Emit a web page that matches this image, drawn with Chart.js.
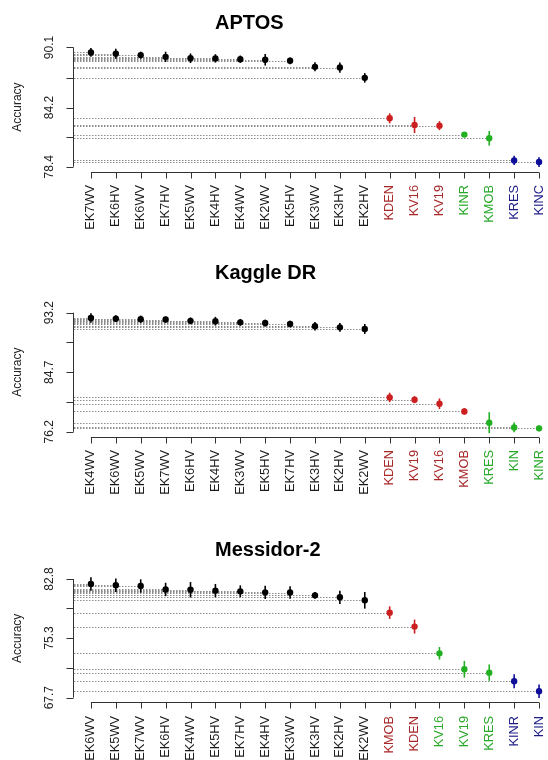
<!DOCTYPE html>
<html>
<head>
<meta charset="utf-8">
<script src="https://cdn.jsdelivr.net/npm/chart.js@4.4.1/dist/chart.umd.min.js"></script>
<style>
  body { margin: 0; background: #fff; }
  #wrap { position: relative; width: 548px; height: 760px; overflow: hidden; }
  .panel { position: absolute; left: 0; width: 548px; }
</style>
</head>
<body>
<div id="wrap">
  <div class="panel" style="top:0;height:250px"><canvas id="aptos" width="548" height="250"></canvas></div>
  <div class="panel" style="top:250px;height:260px"><canvas id="kaggle" width="548" height="260"></canvas></div>
  <div class="panel" style="top:510px;height:250px"><canvas id="messidor" width="548" height="250"></canvas></div>
</div>
<script>
// APTOS
const aptosModels = ['EK7WV','EK6HV','EK6WV','EK7HV','EK5WV','EK4HV','EK4WV','EK2WV','EK5HV','EK3WV','EK3HV','EK2HV',
                     'KDEN','KV16','KV19','KINR','KMOB','KRES','KINC'];
const aptosGroups = ['k','k','k','k','k','k','k','k','k','k','k','k','r','r','r','g','g','b','b'];
const aptosAcc = [89.61, 89.48, 89.35, 89.18, 89.04, 89.03, 88.95, 88.89, 88.79, 88.20, 88.13, 87.12,
                  83.15, 82.50, 82.43, 81.55, 81.19, 79.02, 78.86];
const aptosErr = [0.43, 0.49, 0.34, 0.50, 0.47, 0.41, 0.36, 0.56, 0.33, 0.44, 0.50, 0.47,
                  0.49, 0.79, 0.44, 0.22, 0.72, 0.46, 0.48];
const aptosTicks = [78.4, 81.3, 84.2, 87.15, 90.1];

// Kaggle DR
const kaggleModels = ['EK4WV','EK6WV','EK5WV','EK7WV','EK6HV','EK4HV','EK3WV','EK5HV','EK7HV','EK3HV','EK2HV','EK2WV',
                      'KDEN','KV19','KV16','KMOB','KRES','KIN','KINR'];
const kaggleGroups = ['k','k','k','k','k','k','k','k','k','k','k','k','r','r','r','r','g','g','g'];
const kaggleAcc = [92.44, 92.34, 92.27, 92.22, 92.03, 91.98, 91.82, 91.72, 91.58, 91.25, 91.10, 90.87,
                   81.10, 80.77, 80.20, 79.10, 77.49, 76.82, 76.68];
const kaggleErr = [0.67, 0.48, 0.52, 0.43, 0.48, 0.62, 0.48, 0.48, 0.48, 0.60, 0.62, 0.71,
                   0.67, 0.50, 0.76, 0.48, 1.50, 0.71, 0.40];
const kaggleTicks = [76.2, 80.45, 84.7, 88.95, 93.2];

// Messidor-2
const messidorModels = ['EK6WV','EK5WV','EK7WV','EK6HV','EK4WV','EK5HV','EK7HV','EK4HV','EK3WV','EK3HV','EK2HV','EK2WV',
                        'KMOB','KDEN','KV16','KV19','KRES','KINR','KIN'];
const messidorGroups = ['k','k','k','k','k','k','k','k','k','k','k','k','r','r','g','g','g','b','b'];
const messidorAcc = [82.16, 82.00, 81.91, 81.47, 81.43, 81.32, 81.23, 81.10, 81.08, 80.72, 80.47, 80.09,
                     78.52, 76.74, 73.34, 71.31, 70.88, 69.78, 68.51];
const messidorErr = [0.85, 0.85, 0.85, 0.85, 0.98, 0.85, 0.76, 0.85, 0.80, 0.42, 0.85, 1.06,
                     0.80, 0.89, 0.80, 1.06, 1.04, 0.89, 0.85];
const messidorTicks = [67.7, 71.475, 75.3, 79.05, 82.8];

const pointColour = { k: '#000000', r: '#cc1f1f', g: '#22b022', b: '#0d0d9a' };
const labelColour = { k: '#1a1a1a', r: '#a82828', g: '#2aa82a', b: '#1e1e88' };

// R style axes, guide lines, error bars and title
const rStyle = {
  id: 'rStyle',
  beforeDatasetsDraw(chart, args, opts) {
    const { ctx, chartArea, scales: { x, y } } = chart;
    const pts = chart.data.datasets[0].data;
    ctx.save();
    // dotted guide lines from the y axis to each point
    ctx.strokeStyle = '#8c8c8c';
    ctx.lineWidth = 1;
    ctx.setLineDash([1.5, 1.5]);
    pts.forEach(p => {
      const py = Math.round(y.getPixelForValue(p.y)) + 0.5;
      ctx.beginPath();
      ctx.moveTo(chartArea.left + 1, py);
      ctx.lineTo(x.getPixelForValue(p.x), py);
      ctx.stroke();
    });
    ctx.setLineDash([]);
    // error bars
    ctx.lineWidth = 1.6;
    pts.forEach((p, i) => {
      const px = x.getPixelForValue(p.x);
      ctx.strokeStyle = pointColour[opts.groups[i]];
      ctx.beginPath();
      ctx.moveTo(px, y.getPixelForValue(p.y - opts.err[i]));
      ctx.lineTo(px, y.getPixelForValue(p.y + opts.err[i]));
      ctx.stroke();
    });
    // axes
    ctx.strokeStyle = '#333';
    ctx.lineWidth = 1;
    const ax = Math.round(chartArea.left) + 0.5;
    const lo = y.getPixelForValue(opts.ticks[0]);
    const hi = y.getPixelForValue(opts.ticks[opts.ticks.length - 1]);
    ctx.beginPath();
    ctx.moveTo(ax, lo);
    ctx.lineTo(ax, hi);
    opts.ticks.forEach(t => {
      const ty = Math.round(y.getPixelForValue(t)) + 0.5;
      ctx.moveTo(ax, ty);
      ctx.lineTo(ax - 7, ty);
    });
    const by = Math.round(chartArea.bottom) + 0.5;
    const x0 = x.getPixelForValue(1);
    const x1 = x.getPixelForValue(pts.length);
    ctx.moveTo(x0, by);
    ctx.lineTo(x1, by);
    pts.forEach(p => {
      const tx = Math.round(x.getPixelForValue(p.x)) + 0.5;
      ctx.moveTo(tx, by);
      ctx.lineTo(tx, by + 6);
    });
    ctx.stroke();
    // title
    ctx.fillStyle = '#000';
    ctx.font = 'bold 20px "Liberation Sans", Arial, sans-serif';
    ctx.textAlign = 'left';
    ctx.textBaseline = 'alphabetic';
    ctx.fillText(opts.title, 215, opts.titleY);
    ctx.restore();
  }
};

function drawPanel(id, title, models, groups, acc, err, ticks, box) {
  const span = ticks[ticks.length - 1] - ticks[0];
  new Chart(document.getElementById(id), {
    type: 'scatter',
    data: {
      datasets: [{
        data: acc.map((v, i) => ({ x: i + 1, y: v })),
        pointRadius: 3.2,
        pointBorderWidth: 0,
        pointBackgroundColor: groups.map(g => pointColour[g]),
        pointHoverRadius: 3.2
      }]
    },
    options: {
      responsive: false,
      animation: false,
      events: [],
      layout: { autoPadding: false, padding: { top: box.top, left: 0, right: 0, bottom: 0 } },
      plugins: {
        legend: { display: false },
        tooltip: { enabled: false },
        rStyle: { title: title, titleY: box.titleY, err: err, groups: groups, ticks: ticks }
      },
      scales: {
        x: {
          type: 'linear',
          min: 0.28,
          max: 19.36,
          grid: { display: false, drawTicks: false },
          border: { display: false },
          afterBuildTicks: s => { s.ticks = models.map((m, i) => ({ value: i + 1 })); },
          afterFit: s => { s.height = box.xh; s.paddingLeft = 0; s.paddingRight = 0; },
          ticks: {
            autoSkip: false,
            minRotation: 90,
            maxRotation: 90,
            padding: 13.5,
            font: { family: '"Liberation Sans", Arial, sans-serif', size: 12.8 },
            color: c => labelColour[groups[c.index]],
            callback: (v, i) => models[i]
          }
        },
        y: {
          type: 'linear',
          min: ticks[0] - 0.04 * span,
          max: ticks[ticks.length - 1] + 0.04 * span,
          grid: { display: false, drawTicks: false },
          border: { display: false },
          afterBuildTicks: s => { s.ticks = ticks.map(t => ({ value: t })); },
          afterFit: s => { s.width = 73; s.paddingTop = 0; s.paddingBottom = 0; },
          ticks: {
            minRotation: 90,
            maxRotation: 90,
            crossAlign: 'center',
            padding: 12,
            font: { family: '"Liberation Sans", Arial, sans-serif', size: 12 },
            color: '#222',
            callback: (v, i) => (i % 2 === 0 ? ticks[i].toFixed(1) : '')
          },
          title: {
            display: true,
            text: 'Accuracy',
            color: '#222',
            font: { family: '"Liberation Sans", Arial, sans-serif', size: 12 },
            padding: { top: 10.8, bottom: 0 }
          }
        }
      }
    },
    plugins: [rStyle]
  });
}

drawPanel('aptos', 'APTOS', aptosModels, aptosGroups, aptosAcc, aptosErr, aptosTicks,
          { top: 42.7, xh: 78.5, titleY: 28.6 });
drawPanel('kaggle', 'Kaggle DR', kaggleModels, kaggleGroups, kaggleAcc, kaggleErr, kaggleTicks,
          { top: 57.9, xh: 73.5, titleY: 28.6 });
drawPanel('messidor', 'Messidor-2', messidorModels, messidorGroups, messidorAcc, messidorErr, messidorTicks,
          { top: 64.25, xh: 57.6, titleY: 46.2 });
</script>
</body>
</html>
